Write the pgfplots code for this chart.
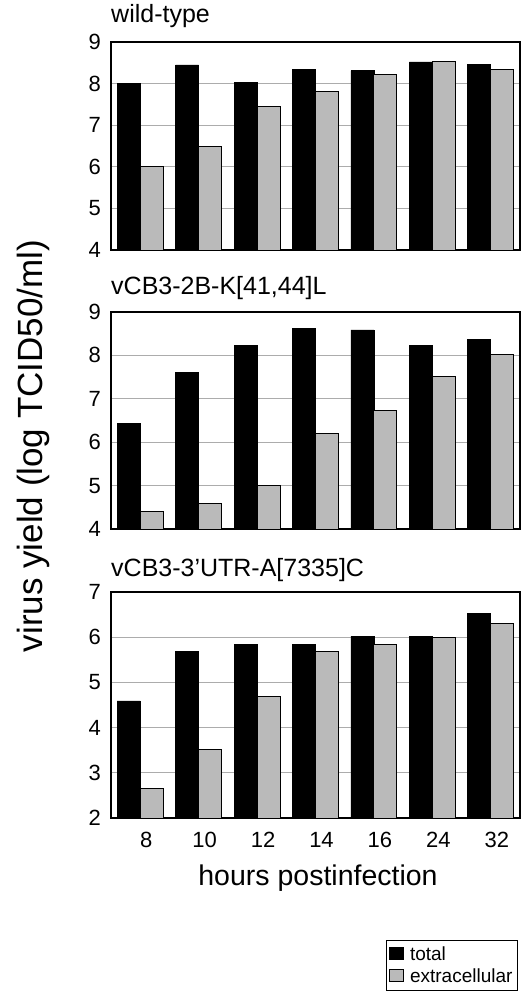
\documentclass[border=0pt]{standalone}
\usepackage{fontspec}
\setmainfont{Liberation Sans}
\usepackage{pgfplots}
\pgfplotsset{compat=1.18}
\definecolor{extgray}{gray}{0.73}

\pgfplotsset{
  panel/.style={
    scale only axis, width=409pt,
    xmin=-0.5, xmax=6.5,
    ybar=0pt, bar width=23pt,
    xtick={0,...,6}, xticklabels={},
    ytick distance=1,
    major tick length=0pt,
    ymajorgrids, grid style={gray!65, line width=0.7pt},
    axis line style={line width=1.2pt},
    tick label style={font=\fontsize{22}{22}\selectfont},
    yticklabel style={inner sep=0pt, xshift=-10pt},
    /pgf/number format/assume math mode=true,
    title style={at={(0,1)}, anchor=base west, inner sep=0pt, font=\fontsize{25}{25}\selectfont},
    legend image code/.code={\draw[##1,line width=0.8pt] (0pt,-5pt) rectangle (14pt,7pt);},
  },
  tot/.style={fill=black, draw=black, line width=0.6pt},
  ext/.style={fill=extgray, draw=black, line width=1pt},
}

\begin{document}
\begin{tikzpicture}
\useasboundingbox (0pt,0pt) rectangle (521pt,-993pt);

% wild-type
\begin{axis}[panel, at={(111pt,-250pt)}, anchor=south west, height=208pt,
  ymin=4, ymax=9, title={wild-type}, title style={yshift=14pt}]
\addplot[tot] coordinates {(0,8.0) (1,8.45) (2,8.02) (3,8.34) (4,8.31) (5,8.52) (6,8.46)};
\addplot[ext] coordinates {(0,6.0) (1,6.5) (2,7.44) (3,7.82) (4,8.22) (5,8.52) (6,8.34)};
\end{axis}

% vCB3-2B-K[41,44]L
\begin{axis}[panel, at={(111pt,-529pt)}, anchor=south west, height=217pt,
  ymin=4, ymax=9, title={vCB3-2B-K[41,44]L}, title style={yshift=12pt}]
\addplot[tot] coordinates {(0,6.43) (1,7.61) (2,8.23) (3,8.63) (4,8.59) (5,8.23) (6,8.36)};
\addplot[ext] coordinates {(0,4.4) (1,4.59) (2,5.0) (3,6.2) (4,6.72) (5,7.52) (6,8.02)};
\end{axis}

% vCB3-3'UTR-A[7335]C
\begin{axis}[panel, at={(111pt,-818pt)}, anchor=south west, height=226pt,
  ymin=2, ymax=7, title={vCB3-3'UTR-A[7335]C}, title style={yshift=10pt},
  xticklabels={8,10,12,14,16,24,32},
  xticklabel style={anchor=base, yshift=-29pt, xshift=6pt},
  legend style={at={(axis description cs:0.995,-0.54)}, anchor=north east,
    font=\fontsize{19}{19}\selectfont, draw=black, line width=1pt,
    cells={anchor=west}, inner xsep=3pt, inner ysep=4pt, row sep=3pt,
    /tikz/every odd column/.append style={column sep=4pt}},
  ]
\addplot[tot] coordinates {(0,4.59) (1,5.69) (2,5.84) (3,5.84) (4,6.02) (5,6.02) (6,6.52)};
\addplot[ext] coordinates {(0,2.66) (1,3.51) (2,4.68) (3,5.69) (4,5.84) (5,6.0) (6,6.3)};
\legend{total, extracellular}
\end{axis}

\node[anchor=base, font=\fontsize{28.5}{28.5}\selectfont] at (318pt,-885pt) {hours postinfection};
\node[anchor=base, rotate=90, font=\fontsize{35}{35}\selectfont] at (42pt,-446pt) {virus yield (log TCID50/ml)};
\end{tikzpicture}
\end{document}
